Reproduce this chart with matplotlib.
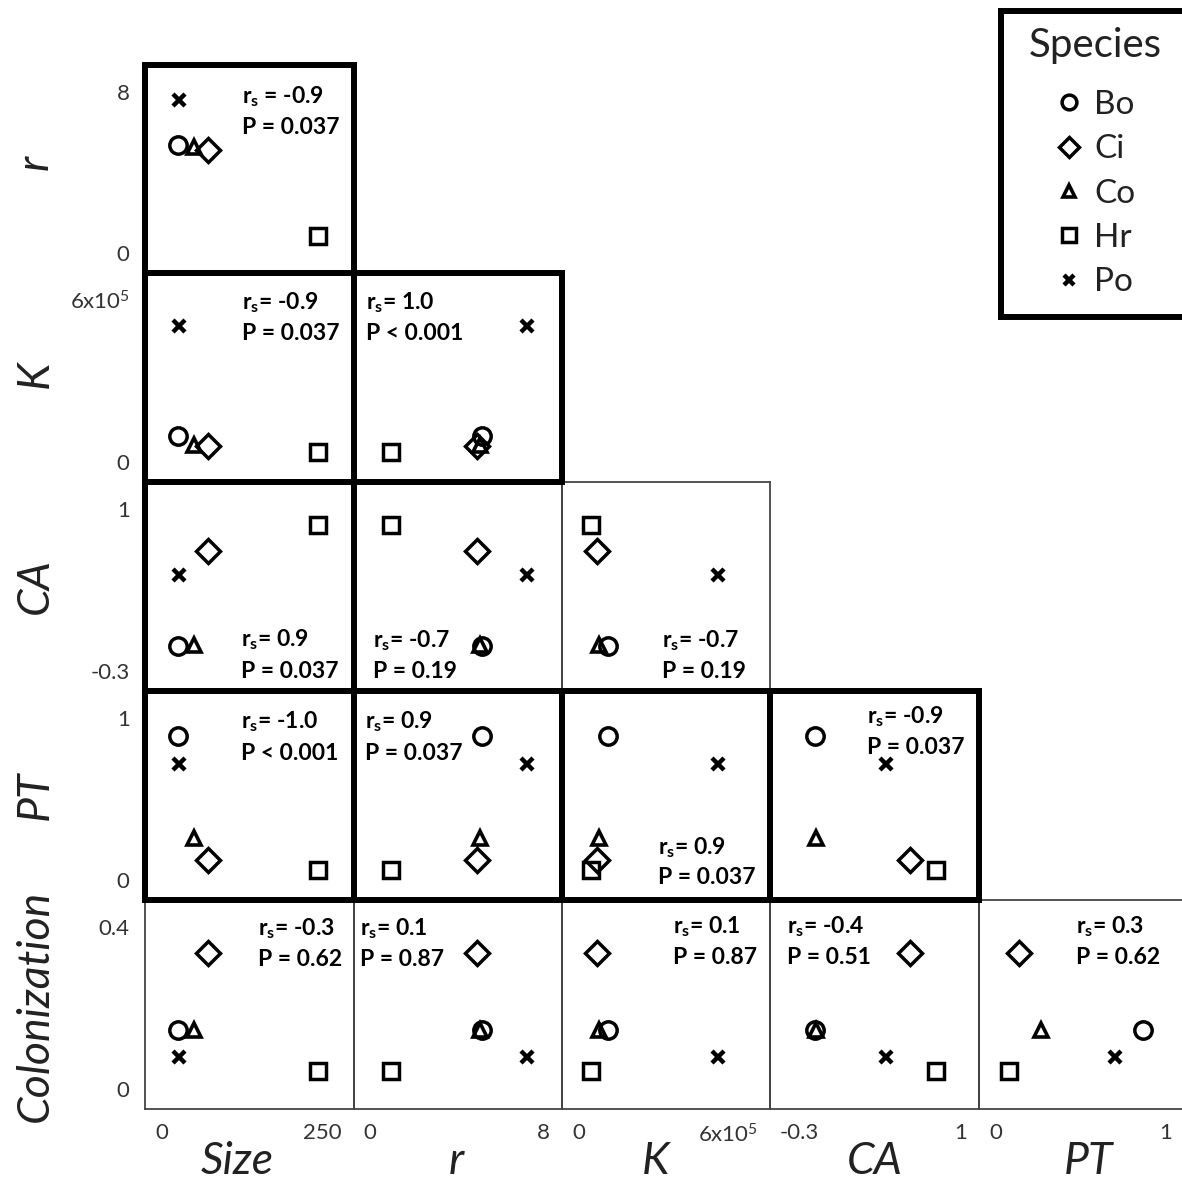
import matplotlib
matplotlib.use('Agg')
import matplotlib.pyplot as plt
import matplotlib.transforms as mtrans
from matplotlib.lines import Line2D

plt.rcParams['font.family'] = ['Lato', 'DejaVu Sans']
plt.rcParams['mathtext.fontset'] = 'custom'
plt.rcParams['mathtext.rm'] = 'Lato'
plt.rcParams['mathtext.it'] = 'Lato:italic'
plt.rcParams['mathtext.bf'] = 'Lato:bold'

# ---------------- data ----------------
species = ['Bo', 'Ci', 'Co', 'Hr', 'Po']
size_vals = [39, 75, 59, 207, 41]
r_vals = [4.94, 4.75, 4.85, 1.43, 6.67]
K_vals = [1.33e5, 1.02e5, 1.06e5, 0.85e5, 4.49e5]
CA_vals = [-0.02, 0.57, -0.015, 0.73, 0.42]
PT_vals = [0.787, 0.19, 0.297, 0.145, 0.652]
colonization_vals = [0.151, 0.299, 0.151, 0.073, 0.100]

variable_names = ['Size', 'r', 'K', 'CA', 'PT', 'Colonization']
axis_min = [0, 0, 0, -0.3, 0, 0]
axis_max = [250, 8, 6e5, 1, 1, 0.4]
min_labels = ['0', '0', '0', '-0.3', '0', '0']
max_labels = ['250', '8', '6x10$^5$', '1', '1', '0.4']

# Spearman statistics, lower triangle row by row
rs_values = ['-0.9', '-0.9', '1.0', '0.9', '-0.7', '-0.7', '-1.0', '0.9', '0.9',
             '-0.9', '-0.3', '0.1', '0.1', '-0.4', '0.3']
p_values = [0.037, 0.037, 0.001, 0.037, 0.19, 0.19, 0.001, 0.037, 0.037,
            0.037, 0.62, 0.87, 0.87, 0.51, 0.62]

all_vals = [size_vals, r_vals, K_vals, CA_vals, PT_vals, colonization_vals]

# ---------------- styling / layout ----------------
marker_styles = {
    'Bo': dict(marker='o', ms=12.5, mew=2.5),
    'Ci': dict(marker='D', ms=12, mew=2.5),
    'Co': dict(marker='^', ms=10.5, mew=2.6),
    'Hr': dict(marker='s', ms=11.5, mew=2.5),
    'Po': dict(marker='x', ms=8, mew=3.2),
}

W, H = 1182, 1184
fig = plt.figure(figsize=(W / 100, H / 100), dpi=100)
fig.patch.set_facecolor('white')

col_edges = [145, 353.5, 562, 770, 979, 1188]
row_edges = [65, 273, 482, 691, 900, 1109]

# text anchor positions (pixels): left x, y of first and second line
text_pos = [(242, 97, 127), (242, 303, 333), (366, 303, 333),
            (241, 640, 672), (373, 641, 672), (662, 641, 672),
            (241, 722, 753), (365, 722, 753), (658, 848, 878), (867, 717, 747),
            (258, 929, 960), (360, 929, 960), (673, 927, 958), (787, 927, 958),
            (1076, 927, 958)]

ylabel_pos = [(48, 162), (48, 374), (48, 586), (48, 795), (48, 1006)]
xlabel_pos = [(237, 1174), (456, 1174), (656, 1174), (875, 1174), (1088, 1174)]

tick_color = '#333333'
stat_fs = 16.5
title_fs = 32


def offset(lbl, dx, dy):
    lbl.set_transform(lbl.get_transform() +
                      mtrans.ScaledTranslation(dx / 100, dy / 100, fig.dpi_scale_trans))


k = 0
for i in range(5):
    yi = i + 1
    for j in range(i + 1):
        xi = j
        L, R = col_edges[j], col_edges[j + 1]
        T, B = row_edges[i], row_edges[i + 1]
        sig = p_values[k] < 0.05
        ax = fig.add_axes([L / W, 1 - B / H, (R - L) / W, (B - T) / H],
                          zorder=3 if sig else 2)
        ax.patch.set_facecolor('none')
        for sp in ax.spines.values():
            if sig:
                sp.set_linewidth(4.3)
                sp.set_color('black')
            else:
                sp.set_linewidth(1.3)
                sp.set_color('#444444')
        for s_idx, sp_name in enumerate(species):
            ax.plot([all_vals[xi][s_idx]], [all_vals[yi][s_idx]], linestyle='none',
                    color='black', mfc='none', mec='black', clip_on=False,
                    **marker_styles[sp_name])
        ax.set_xlim(axis_min[xi], axis_max[xi])
        ax.set_ylim(axis_min[yi], axis_max[yi])
        ax.tick_params(length=0, labelsize=16, labelcolor=tick_color)
        ax.tick_params(axis='x', pad=10)
        ax.tick_params(axis='y', pad=11)
        if j == 0:
            ax.set_yticks([axis_min[yi], axis_max[yi]])
            ax.set_yticklabels([min_labels[yi], max_labels[yi]])
            ylab = ax.get_yticklabels()
            ylab[0].set_va('center')
            ylab[1].set_va('center')
            offset(ylab[0], 0, 18)
            offset(ylab[1], 0, -29)
        else:
            ax.set_yticks([])
        if i == 4:
            ax.set_xticks([axis_min[xi], axis_max[xi]])
            ax.set_xticklabels([min_labels[xi], max_labels[xi]])
            xlab = ax.get_xticklabels()
            xlab[0].set_ha('left')
            xlab[1].set_ha('right')
            offset(xlab[0], 10, 0)
            offset(xlab[1], -12 if xi != 4 else -16, 0)
        else:
            ax.set_xticks([])

        # correlation text
        tx, ty1, ty2 = text_pos[k]
        sep = ' ' if k == 0 else ''
        fig.text(tx / W, 1 - ty1 / H, 'r$_{\\mathbf{s}}$' + sep + '= ' + rs_values[k],
                 ha='left', va='center', fontsize=stat_fs, fontweight='bold', zorder=5)
        p = p_values[k]
        ptxt = 'P < 0.001' if p <= 0.001 else 'P = ' + str(p)
        fig.text(tx / W, 1 - ty2 / H, ptxt, ha='left', va='center',
                 fontsize=stat_fs, fontweight='bold', zorder=5)
        k += 1

# axis titles
for i in range(5):
    x, y = ylabel_pos[i]
    fig.text(x / W, 1 - y / H, variable_names[i + 1], rotation=90, ha='center',
             va='baseline', rotation_mode='anchor', fontsize=title_fs,
             fontstyle='italic', color='#222222')
for j in range(5):
    x, y = xlabel_pos[j]
    fig.text(x / W, 1 - y / H, variable_names[j], ha='center', va='baseline',
             fontsize=title_fs, fontstyle='italic', color='#222222')

# legend box
lx0, ly0, lw, lh = 1001, 11, 199, 306
lax = fig.add_axes([lx0 / W, 1 - (ly0 + lh) / H, lw / W, lh / H], zorder=4)
lax.set_xticks([])
lax.set_yticks([])
lax.patch.set_facecolor('white')
for sp in lax.spines.values():
    sp.set_linewidth(4.3)
    sp.set_color('black')
lax.text((1029 - lx0) / lw, 1 - (45 - ly0) / lh, 'Species', ha='left', va='center',
         fontsize=29, color='#222222', transform=lax.transAxes)
handles = [Line2D([], [], linestyle='none', color='black', mfc='none', mec='black',
                  **marker_styles[s]) for s in species]
leg = lax.legend(handles, species, frameon=False, loc='upper left',
                 bbox_to_anchor=((1056 - lx0) / lw, 1 - (90 - ly0) / lh),
                 borderaxespad=0, borderpad=0, fontsize=24, markerscale=0.85,
                 handletextpad=0.35, labelspacing=0.43, handlelength=0.8)
for t in leg.get_texts():
    t.set_color('#222222')

fig.savefig('out.png', dpi=100, facecolor='white')
